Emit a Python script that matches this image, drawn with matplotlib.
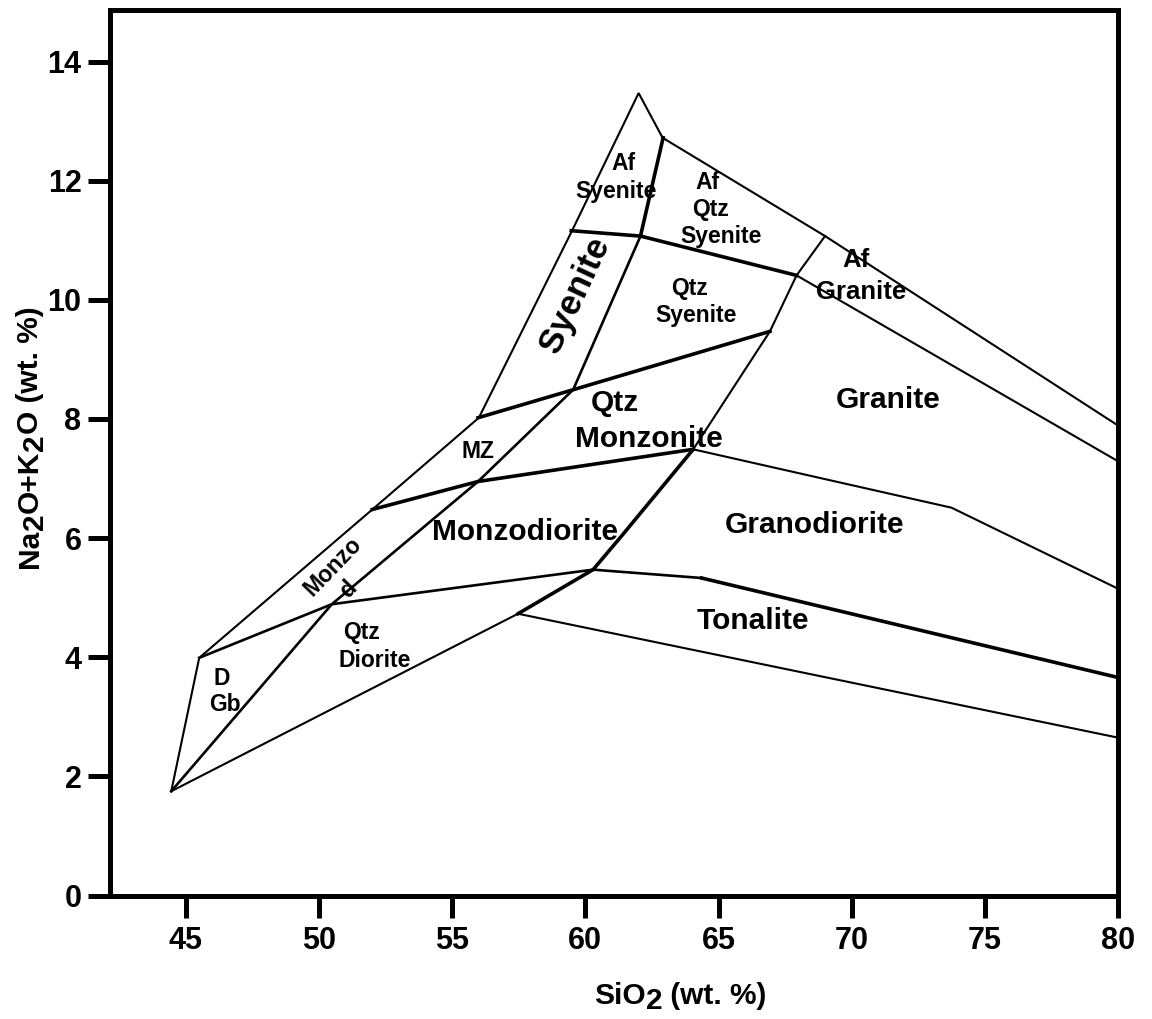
import matplotlib
matplotlib.use('Agg')
import matplotlib.pyplot as plt

plt.rcParams['font.family'] = ['Liberation Sans', 'DejaVu Sans']
plt.rcParams['font.weight'] = 'bold'

# ---- field boundary polylines (SiO2, Na2O+K2O) ----
outer_x = [44.45, 45.5, 52.0, 56.0, 59.5, 62.0, 62.9, 69.0, 80.0]
outer_y = [1.75, 3.99, 6.48, 8.02, 11.16, 13.47, 12.72, 11.07, 7.89]

afgr_low_x = [67.93, 80.0]
afgr_low_y = [10.41, 7.29]

afsy_base_x = [59.47, 62.07, 67.93]
afsy_base_y = [11.16, 11.07, 10.41]

af_div_x = [62.07, 62.92]
af_div_y = [11.07, 12.72]

afgr_left_x = [66.93, 67.93, 69.0]
afgr_left_y = [9.47, 10.41, 11.07]

diag_x = [44.45, 50.48, 55.97, 59.54, 62.07]
diag_y = [1.75, 4.89, 6.95, 8.49, 11.07]

qsy_base_x = [55.97, 59.54, 66.93]
qsy_base_y = [8.02, 8.49, 9.47]

mz_base_x = [52.0, 55.97, 64.05]
mz_base_y = [6.48, 6.95, 7.49]

gr_right_x = [64.05, 66.93]
gr_right_y = [7.49, 9.47]

gd_top_x = [64.05, 73.75, 80.0]
gd_top_y = [7.49, 6.51, 5.15]

qd_right_x = [57.47, 60.29, 61.35, 64.05]
qd_right_y = [4.73, 5.47, 6.03, 7.49]

md_base_x = [45.5, 50.48, 60.29, 64.36]
md_base_y = [3.99, 4.89, 5.47, 5.33]

ton_top_x = [64.36, 80.0]
ton_top_y = [5.33, 3.66]

ton_base_x = [44.45, 57.47, 80.0]
ton_base_y = [1.75, 4.73, 2.65]

thin_lines = [(outer_x, outer_y), (afgr_low_x, afgr_low_y), (afgr_left_x, afgr_left_y),
              (gr_right_x, gr_right_y), (gd_top_x, gd_top_y), (ton_base_x, ton_base_y)]
medium_lines = [(diag_x, diag_y), (md_base_x, md_base_y)]
thick_lines = [(afsy_base_x, afsy_base_y), (af_div_x, af_div_y), (qsy_base_x, qsy_base_y),
               (mz_base_x, mz_base_y), (qd_right_x, qd_right_y), (ton_top_x, ton_top_y)]

# ---- field labels ----
big_labels = [("Qtz", 61.1, 8.26, 0), ("Monzonite", 62.4, 7.67, 0),
              ("Monzodiorite", 57.73, 6.11, 0), ("Granite", 71.37, 8.31, 0),
              ("Granodiorite", 68.6, 6.22, 0), ("Tonalite", 66.3, 4.60, 0)]
rot_labels = [("Syenite", 59.6, 10.08, 65)]
small_labels = [("Af", 61.42, 12.28, 0), ("Syenite", 61.14, 11.81, 0),
                ("Af", 64.57, 11.97, 0), ("Qtz", 64.71, 11.51, 0), ("Syenite", 65.09, 11.07, 0),
                ("Qtz", 63.92, 10.19, 0), ("Syenite", 64.17, 9.74, 0),
                ("MZ", 55.96, 7.45, 0), ("Monzo", 50.52, 5.53, 46), ("d", 51.09, 5.14, 46),
                ("Qtz", 51.59, 4.41, 0), ("Diorite", 52.09, 3.94, 0),
                ("D", 46.36, 3.65, 0), ("Gb", 46.48, 3.21, 0)]
mid_labels = [("Af", 70.18, 10.66, 0), ("Granite", 70.37, 10.13, 0)]

x_ticks = [45, 50, 55, 60, 65, 70, 75, 80]
y_ticks = [0, 2, 4, 6, 8, 10, 12, 14]

W, H = 1152, 1019
fig = plt.figure(figsize=(W / 100, H / 100), dpi=100)
ax = fig.add_axes([110 / W, 1 - 895.5 / H, (1118 - 110) / W, (895.5 - 10) / H])
ax.set_xlim(42.15, 80)
ax.set_ylim(0, 14.865)

for xs, ys in thin_lines:
    ax.plot(xs, ys, color='black', lw=1.5, solid_joinstyle='miter')
for xs, ys in medium_lines:
    ax.plot(xs, ys, color='black', lw=1.9, solid_joinstyle='miter')
for xs, ys in thick_lines:
    ax.plot(xs, ys, color='black', lw=2.6, solid_joinstyle='miter')

for t, x, y, r in big_labels:
    ax.text(x, y, t, fontsize=21.5, fontweight='bold', ha='center', va='center', rotation=r)
for t, x, y, r in rot_labels:
    ax.text(x, y, t, fontsize=25, fontweight='bold', ha='center', va='center', rotation=r)
for t, x, y, r in small_labels:
    ax.text(x, y, t, fontsize=16.5, fontweight='bold', ha='center', va='center', rotation=r)
for t, x, y, r in mid_labels:
    ax.text(x, y, t, fontsize=18.5, fontweight='bold', ha='center', va='center', rotation=r)

ax.set_xticks(x_ticks)
ax.set_yticks(y_ticks)
ax.tick_params(direction='out', length=16, width=3.6, labelsize=22)
ax.tick_params(axis='x', pad=6)
ax.tick_params(axis='y', pad=4.5)
for lab in ax.get_xticklabels() + ax.get_yticklabels():
    lab.set_fontweight('bold')
for s in ax.spines.values():
    s.set_linewidth(3.6)

# x-axis label with lowered "2"
fs = 21.5
t1 = fig.text(594 / W, 1 - 1010 / H, "SiO", fontsize=fs, fontweight='bold', ha='left', va='bottom')
t2 = ax.annotate("2", xy=(1, 0), xycoords=t1, xytext=(0, -3.8), textcoords='offset points',
                 fontsize=fs, fontweight='bold', ha='left', va='bottom')
t3 = ax.annotate(" (wt. %)", xy=(1, 0), xycoords=t2, xytext=(0, 3.8), textcoords='offset points',
                 fontsize=fs, fontweight='bold', ha='left', va='bottom')

# y-axis label with lowered "2"s
kw = dict(fontsize=fs, fontweight='bold', ha='left', va='bottom', rotation=90,
          rotation_mode='anchor', textcoords='offset points')
y1 = fig.text(44 / W, 1 - 568 / H, "Na", fontsize=fs, fontweight='bold', ha='left', va='bottom',
              rotation=90, rotation_mode='anchor')
y2 = ax.annotate("2", xy=(1, 1), xycoords=y1, xytext=(3.8, 0), **kw)
y3 = ax.annotate("O+K", xy=(1, 1), xycoords=y2, xytext=(-3.8, 0), **kw)
y4 = ax.annotate("2", xy=(1, 1), xycoords=y3, xytext=(3.8, 0), **kw)
y5 = ax.annotate("O (wt. %)", xy=(1, 1), xycoords=y4, xytext=(-3.8, 0), **kw)

fig.savefig('out.png', dpi=100)
